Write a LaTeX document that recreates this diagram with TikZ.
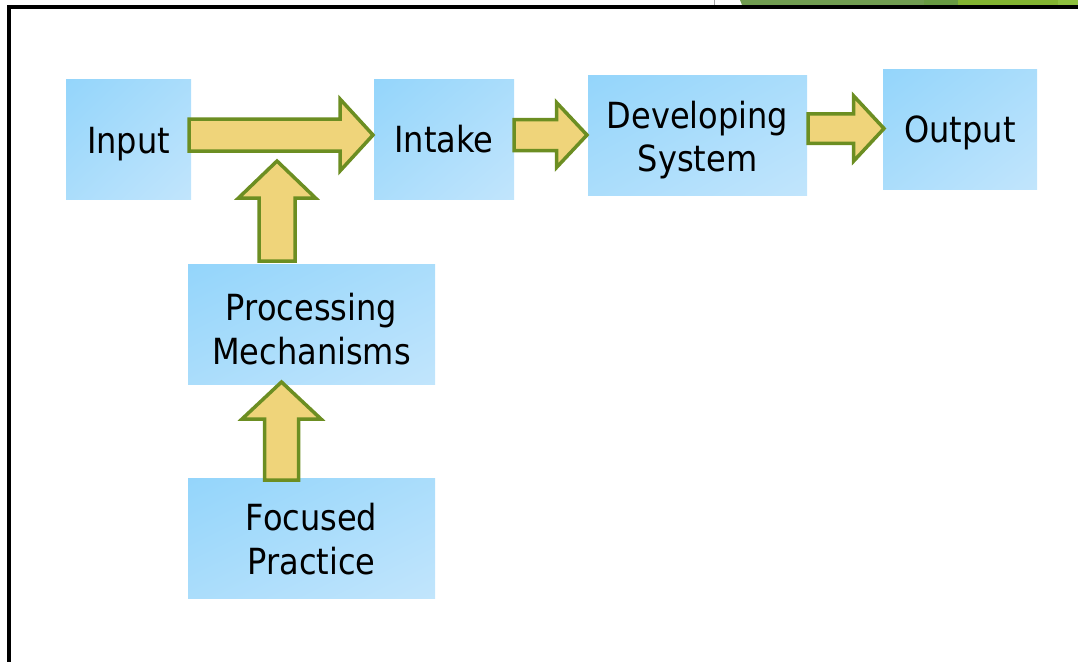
\documentclass[tikz,border=0pt]{standalone}
\usepackage{fontspec}
\setmainfont{DejaVu Sans}[FakeStretch=0.89]
\usetikzlibrary{calc}
\definecolor{afill}{RGB}{239,212,122}
\definecolor{aline}{RGB}{108,142,34}
\definecolor{gA}{RGB}{112,156,80}
\definecolor{gB}{RGB}{104,154,66}
\definecolor{gC}{RGB}{131,180,49}
\definecolor{gD}{RGB}{142,192,62}
% diagonal gradient: top-left (125,205,250) to bottom-right (216,237,253)
\pgfdeclarefunctionalshading{diagblue}{\pgfpoint{-50bp}{-50bp}}{\pgfpoint{50bp}{50bp}}{}{
  exch 50 add exch 50 exch sub add 200 div
  dup 0.357 mul 0.490 add exch
  dup 0.125 mul 0.804 add exch
  0.012 mul 0.980 add
}
\newcommand{\harrow}[5]{\draw[blockarrow] let \p1=(#1), \p2=(#2) in
  (\x1,\y1+#3pt) -- (\x2-#5pt,\y1+#3pt) -- (\x2-#5pt,\y1+#4pt) -- (\x2,\y1)
  -- (\x2-#5pt,\y1-#4pt) -- (\x2-#5pt,\y1-#3pt) -- (\x1,\y1-#3pt) -- cycle;}
\newcommand{\varrow}[5]{\draw[blockarrow] let \p1=(#1), \p2=(#2) in
  (\x1+#3pt,\y1) -- (\x1+#3pt,\y2-#5pt) -- (\x1+#4pt,\y2-#5pt) -- (\x2,\y2)
  -- (\x1-#4pt,\y2-#5pt) -- (\x1-#3pt,\y2-#5pt) -- (\x1-#3pt,\y1) -- cycle;}
\begin{document}
\begin{tikzpicture}[x=1pt,y=-1pt,
  box/.style={rectangle, shading=diagblue, shade,
    draw=none, inner sep=0pt, align=center,
    font=\fontsize{36}{43.5}\selectfont, text depth=0pt},
  blockarrow/.style={fill=afill, draw=aline, line width=3.5pt, line join=miter},
  frame/.style={line width=4pt, black}]
\useasboundingbox (0,0) rectangle (1078,661);
% top decoration
\fill[gA] (740,0) -- (742,5) -- (924,5) -- (924,0) -- cycle;
\fill[gB] (924,0) rectangle (958,5);
\fill[gC] (958,0) rectangle (1058,5);
\fill[gD] (1058,0) rectangle (1078,5);
\draw[black!35, line width=0.8pt] (714,0) -- (714,5);
% frame
\draw[frame] (9,670) -- (9,7) -- (1090,7);
% boxes
\node[box, minimum width=125pt, minimum height=120pt, text height=28pt] (input) at (128.5,139) {Input};
\node[box, minimum width=140pt, minimum height=120pt, text height=27.5pt] (intake) at (444,139) {Intake};
\node[box, minimum width=219pt, minimum height=120pt, text height=73pt] (dev) at (697.5,135) {Developing\\System};
\node[box, minimum width=154pt, minimum height=120pt, text height=26pt] (output) at (960,129) {Output};
\node[box, minimum width=247pt, minimum height=120pt, text height=79pt] (proc) at (311.5,324.5) {Processing\\Mechanisms};
\node[box, minimum width=247pt, minimum height=120pt, text height=72.5pt] (focus) at (311.5,538) {Focused\\Practice};
% arrow end points
\coordinate (a1s) at (189,135);   \coordinate (a1e) at (373,135);
\coordinate (a2s) at (277,261);   \coordinate (a2e) at (277,161);
\coordinate (a3s) at (281.5,480); \coordinate (a3e) at (281.5,382);
\coordinate (a4s) at (514,135);   \coordinate (a4e) at (587,135);
\coordinate (a5s) at (808,128.5); \coordinate (a5e) at (884,128.5);
% arrows
\harrow{a1s}{a1e}{16}{36}{33}
\varrow{a2s}{a2e}{18}{38.5}{37}
\varrow{a3s}{a3e}{17}{39.5}{37}
\harrow{a4s}{a4e}{15.5}{32.5}{30.5}
\harrow{a5s}{a5e}{14.75}{32.75}{30.5}
\end{tikzpicture}
\end{document}
